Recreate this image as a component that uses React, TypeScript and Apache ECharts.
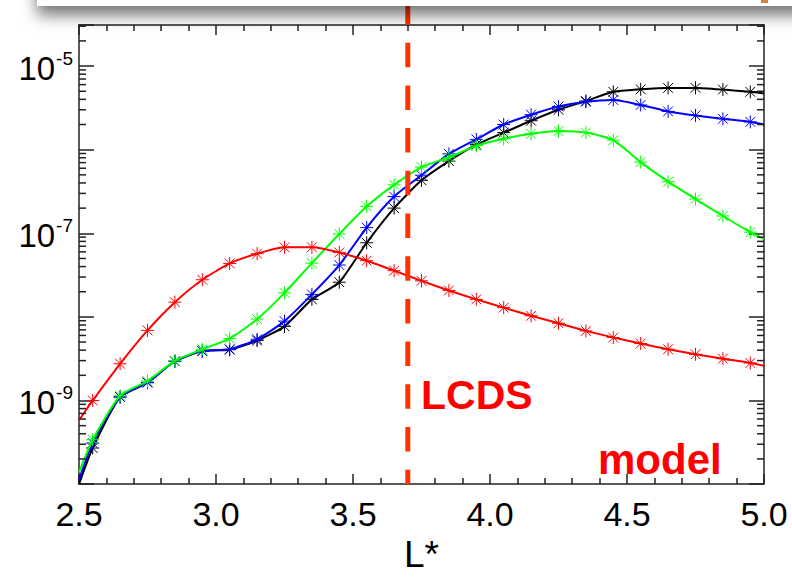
import React, { useEffect, useRef } from 'react';
import * as echarts from 'echarts';

// ---- data ----
const L_VALUES = [2.5, 2.55, 2.65, 2.75, 2.85, 2.95, 3.05, 3.15, 3.25, 3.35, 3.45, 3.55, 3.65, 3.75, 3.85, 3.95, 4.05, 4.15, 4.25, 4.35, 4.45, 4.55, 4.65, 4.75, 4.85, 4.95, 5.0];

const RED = [5.8e-10, 1.0e-9, 2.75e-9, 6.9e-9, 1.5e-8, 2.78e-8, 4.36e-8, 5.7e-8, 6.8e-8, 6.8e-8, 5.9e-8, 4.7e-8, 3.57e-8, 2.7e-8, 2.07e-8, 1.62e-8, 1.29e-8, 1.03e-8, 8.4e-9, 6.8e-9, 5.66e-9, 4.8e-9, 4.1e-9, 3.57e-9, 3.16e-9, 2.81e-9, 2.6e-9];
const GREEN = [1.38e-10, 3.4e-10, 1.14e-9, 1.71e-9, 2.98e-9, 4.1e-9, 5.5e-9, 9.4e-9, 1.94e-8, 4.4e-8, 9.8e-8, 2.1e-7, 3.8e-7, 6.2e-7, 8.1e-7, 1.11e-6, 1.35e-6, 1.55e-6, 1.67e-6, 1.6e-6, 1.3e-6, 7.1e-7, 4.14e-7, 2.57e-7, 1.61e-7, 1.03e-7, 8.5e-8];
const BLUE = [1.12e-10, 3.1e-10, 1.1e-9, 1.63e-9, 2.95e-9, 3.9e-9, 4.1e-9, 5.4e-9, 8.9e-9, 1.86e-8, 4.17e-8, 1.17e-7, 2.75e-7, 4.95e-7, 8.9e-7, 1.33e-6, 2.0e-6, 2.62e-6, 3.28e-6, 3.75e-6, 3.93e-6, 3.43e-6, 2.87e-6, 2.57e-6, 2.34e-6, 2.15e-6, 2.0e-6];
const BLACK = [1.0e-10, 2.7e-10, 1.1e-9, 1.65e-9, 2.95e-9, 3.9e-9, 4.05e-9, 5.2e-9, 7.7e-9, 1.62e-8, 2.6e-8, 7.7e-8, 2.0e-7, 4.3e-7, 7.3e-7, 1.15e-6, 1.6e-6, 2.22e-6, 3.0e-6, 3.82e-6, 4.92e-6, 5.27e-6, 5.48e-6, 5.48e-6, 5.24e-6, 4.92e-6, 4.7e-6];

const X_MIN = 2.5;
const X_MAX = 5.0;
const X_INTERVAL = 0.5;
const Y_MIN = 1e-10;
const Y_MAX = 3.1e-5;
const Y_LABEL_EXPONENTS = [-5, -7, -9];
const MINOR_MULTIPLIERS = [2, 3, 4, 5, 6, 7, 8, 9];
const DECADES = [-10, -9, -8, -7, -6, -5];
const LCDS_L = 3.7;
const X_NAME = 'L*';
const TEXT_LCDS = 'LCDS';
const TEXT_MODEL = 'model';

const FONT = "'Liberation Sans', Arial, Helvetica, sans-serif";
const AXIS_COLOR = '#222';
const ASTERISK = 'path://M0,-10L0,10M-10,0L10,0M-7.5,-7.5L7.5,7.5M-7.5,7.5L7.5,-7.5';

function makeSeries(name: string, color: string, ys: number[], z: number) {
  return {
    type: 'line',
    name,
    z,
    smooth: 0.2,
    showAllSymbol: true,
    symbolSize: 13,
    clip: true,
    lineStyle: { color, width: 2 },
    itemStyle: { color, borderColor: color, borderWidth: 1 },
    emphasis: { disabled: true },
    data: L_VALUES.map((x, i) => ({
      value: [x, ys[i]],
      symbol: i === 0 || i === L_VALUES.length - 1 ? 'none' : ASTERISK,
    })),
  };
}

export default function App() {
  const ref = useRef<HTMLDivElement>(null);
  useEffect(() => {
    if (!ref.current) return;
    const chart = echarts.init(ref.current, null, { renderer: 'svg' });

    const minorVals: number[] = [];
    DECADES.forEach((d) => MINOR_MULTIPLIERS.forEach((m) => {
      const v = m * Math.pow(10, d);
      if (v > Y_MIN && v < Y_MAX) minorVals.push(v);
    }));
    const minorData: number[][] = [];
    minorVals.forEach((v) => { minorData.push([X_MIN, v]); minorData.push([X_MAX, v]); });

    const yLabel = (v: number) => {
      const lg = Math.log10(v);
      const e = Math.round(lg);
      if (Math.abs(lg - e) > 1e-6) return '';
      if (Y_LABEL_EXPONENTS.indexOf(e) < 0) return '';
      return `{b|10}{s|${e}}`;
    };

    const xAxisBase = {
      type: 'value',
      min: X_MIN,
      max: X_MAX,
      interval: X_INTERVAL,
      splitLine: { show: false },
      axisLine: { show: true, onZero: false, lineStyle: { color: AXIS_COLOR, width: 1.5 } },
      axisTick: { show: true, inside: true, length: 10, lineStyle: { color: AXIS_COLOR, width: 1.5 } },
      minorTick: { show: true, splitNumber: 5, length: 6, lineStyle: { color: AXIS_COLOR, width: 1.5 } },
    };
    const yAxisBase = {
      type: 'log',
      logBase: 10,
      min: Y_MIN,
      max: Y_MAX,
      splitLine: { show: false },
      axisLine: { show: true, onZero: false, lineStyle: { color: AXIS_COLOR, width: 1.5 } },
      axisTick: { show: true, inside: true, length: 15, lineStyle: { color: AXIS_COLOR, width: 1.5 } },
    };

    chart.setOption({
      animation: false,
      backgroundColor: '#fff',
      grid: { left: 79, right: 28, top: 25, bottom: 86, containLabel: false },
      xAxis: [
        {
          ...xAxisBase,
          position: 'bottom',
          name: X_NAME,
          nameLocation: 'middle',
          nameGap: 49,
          nameTextStyle: { fontSize: 37, fontFamily: FONT, color: '#000' },
          axisLabel: {
            margin: 13,
            fontSize: 34,
            fontFamily: FONT,
            color: '#000',
            formatter: (v: number) => v.toFixed(1),
          },
        },
        { ...xAxisBase, position: 'top', axisLabel: { show: false } },
      ],
      yAxis: [
        {
          ...yAxisBase,
          position: 'left',
          axisLabel: {
            margin: 6,
            formatter: yLabel,
            rich: {
              b: { fontSize: 33, lineHeight: 36, fontFamily: FONT, color: '#000', padding: [5, 0, 0, 0] },
              s: { fontSize: 19, lineHeight: 19, fontFamily: FONT, color: '#000', verticalAlign: 'top', padding: [1, 0, 0, 1] },
            },
          },
        },
        { ...yAxisBase, position: 'right', axisLabel: { show: false } },
      ],
      series: [
        makeSeries('black', '#000000', BLACK, 3),
        makeSeries('blue', '#0000ff', BLUE, 4),
        makeSeries('green', '#00ff00', GREEN, 5),
        makeSeries('red', '#ff0000', RED, 6),
        {
          type: 'custom',
          name: 'minorTicks',
          silent: true,
          z: 10,
          data: minorData,
          encode: { x: 0, y: 1 },
          renderItem: (params: any, api: any) => {
            const x = api.value(0);
            const y = api.value(1);
            const p = api.coord([x, y]);
            const dir = x <= X_MIN ? 1 : -1;
            return {
              type: 'line',
              shape: { x1: p[0], y1: p[1], x2: p[0] + dir * 7, y2: p[1] },
              style: { stroke: AXIS_COLOR, lineWidth: 1.5 },
            };
          },
        },
      ],
    });

    const px = chart.convertToPixel({ xAxisIndex: 0 }, LCDS_L) as number;
    const bottomPx = chart.convertToPixel({ yAxisIndex: 0 }, Y_MIN) as number;

    chart.setOption({
      graphic: [
        {
          type: 'line',
          z: 50,
          silent: true,
          shape: { x1: px, y1: 0, x2: px, y2: bottomPx },
          style: { stroke: '#ff3300', lineWidth: 5, lineDash: [24.5, 18.2] },
        },
        {
          type: 'text',
          z: 60,
          left: 421,
          top: 374,
          style: { text: TEXT_LCDS, fill: '#ff0000', font: `bold 41px ${FONT}` },
        },
        {
          type: 'text',
          z: 60,
          left: 598,
          top: 438,
          style: { text: TEXT_MODEL, fill: '#ff0000', font: `bold 42px ${FONT}` },
        },
        {
          type: 'rect',
          z: 100,
          silent: true,
          shape: { x: 37, y: -40, width: 800, height: 46 },
          style: { fill: '#ffffff', shadowBlur: 16, shadowColor: 'rgba(0,0,0,0.55)', shadowOffsetY: 9 },
        },
        {
          type: 'rect',
          z: 101,
          silent: true,
          shape: { x: 761, y: 0, width: 7, height: 3 },
          style: { fill: '#d2823a' },
        },
      ],
    });

    return () => chart.dispose();
  }, []);
  return <div ref={ref} style={{ position: 'absolute', left: 0, top: 0, width: 792, height: 578 }} />;
}
